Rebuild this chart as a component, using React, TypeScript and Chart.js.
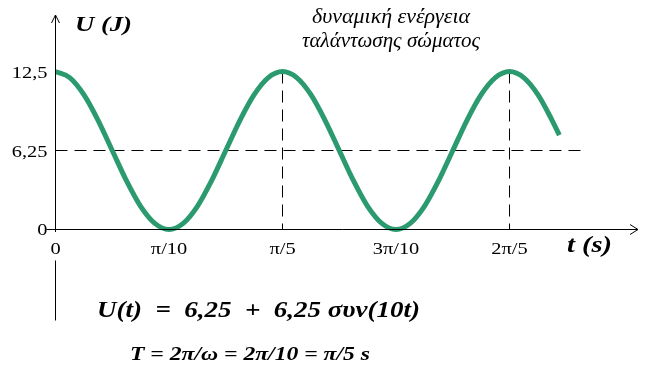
import React, { useEffect, useRef } from "react";
import { Chart, registerables } from "chart.js";

Chart.register(...registerables);

const tValues = [
  0, 0.0393, 0.0785, 0.1178, 0.1571, 0.1963, 0.2356, 0.2749, 0.3142, 0.3534,
  0.3927, 0.432, 0.4712, 0.5105, 0.5498, 0.589, 0.6283, 0.6676, 0.7069, 0.7461,
  0.7854, 0.8247, 0.8639, 0.9032, 0.9425, 0.9817, 1.021, 1.0603, 1.0996, 1.1388,
  1.1781, 1.2174, 1.2566, 1.2959, 1.3352, 1.3744, 1.3945,
];
const uValues = [
  12.5, 12.02, 10.67, 8.64, 6.25, 3.86, 1.83, 0.48, 0, 0.48,
  1.83, 3.86, 6.25, 8.64, 10.67, 12.02, 12.5, 12.02, 10.67, 8.64,
  6.25, 3.86, 1.83, 0.48, 0, 0.48, 1.83, 3.86, 6.25, 8.64,
  10.67, 12.02, 12.5, 12.02, 10.67, 8.64, 7.47,
];

const xTickValues = [0, 0.3142, 0.6283, 0.9425, 1.2566];
const xTickLabels = ["0", "π/10", "π/5", "3π/10", "2π/5"];
const yTickValues = [12.5, 6.25, 0];
const yTickLabels = ["12,5", "6,25", "0"];

const midLevel = [6.25];
const midLineEnd = [1.461];
const peakTimes = [0.6283, 1.2566];
const peakLevel = [12.5];

const titleLines = ["δυναμική ενέργεια", "ταλάντωσης σώματος"];
const yAxisTitle = "U (J)";
const xAxisTitle = "t (s)";
const formulaText = "U(t)  =  6,25  +  6,25 συν(10t)";
const periodText = "T = 2π/ω = 2π/10 = π/5 s";

const GREEN = "#2b9a6f";
const SERIF = "'Liberation Serif', 'Times New Roman', serif";

// draw text stretched horizontally so it covers the given width
function fitText(
  ctx: CanvasRenderingContext2D,
  text: string,
  x: number,
  y: number,
  width: number,
  align: "left" | "center" | "right"
) {
  const w = ctx.measureText(text).width;
  const sx = width / w;
  ctx.save();
  ctx.textAlign = "left";
  const left = align === "left" ? x : align === "center" ? x - width / 2 : x - width;
  ctx.translate(left, y);
  ctx.scale(sx, 1);
  ctx.fillText(text, 0, 0);
  ctx.restore();
}

function stretchText(
  ctx: CanvasRenderingContext2D,
  text: string,
  x: number,
  y: number,
  sx: number,
  align: "left" | "center" | "right"
) {
  const w = ctx.measureText(text).width * sx;
  fitText(ctx, text, x, y, w, align);
}

const overlay = {
  id: "overlay",
  afterDraw(chart: any) {
    const ctx = chart.ctx as CanvasRenderingContext2D;
    const xs = chart.scales.x;
    const ys = chart.scales.y;
    const x0 = Math.floor(xs.getPixelForValue(0)) + 0.5;
    const y0 = Math.floor(ys.getPixelForValue(0)) + 0.5;
    const top = chart.chartArea.top;
    const right = chart.chartArea.right;
    ctx.save();
    ctx.strokeStyle = "#000";
    ctx.lineWidth = 1;
    ctx.setLineDash([]);
    ctx.beginPath();
    // x axis with arrow
    ctx.moveTo(x0 - 9, y0);
    ctx.lineTo(right, y0);
    ctx.moveTo(right - 8, y0 - 5);
    ctx.lineTo(right, y0);
    ctx.lineTo(right - 8, y0 + 5);
    // y axis with arrow
    ctx.moveTo(x0, chart.chartArea.bottom);
    ctx.lineTo(x0, top);
    ctx.moveTo(x0 - 4, top + 8);
    ctx.lineTo(x0, top);
    ctx.lineTo(x0 + 4, top + 8);
    // lower segment of y axis
    ctx.moveTo(x0, y0 + 31);
    ctx.lineTo(x0, y0 + 91);
    ctx.stroke();

    ctx.fillStyle = "#000";
    ctx.textBaseline = "alphabetic";
    // y tick labels
    ctx.font = `17px ${SERIF}`;
    yTickValues.forEach((v, i) => {
      stretchText(ctx, yTickLabels[i], x0 - 8, ys.getPixelForValue(v) + 6, 1.2, "right");
    });
    // x tick labels
    xTickValues.forEach((v, i) => {
      stretchText(ctx, xTickLabels[i], xs.getPixelForValue(v), y0 + 24, 1.2, "center");
    });
    // axis titles
    ctx.font = `bold italic 22px ${SERIF}`;
    fitText(ctx, yAxisTitle, 75, 31, 57, "left");
    ctx.font = `bold italic 23px ${SERIF}`;
    fitText(ctx, xAxisTitle, 567, 252, 45, "left");
    // chart title (greek)
    ctx.font = `italic 20px ${SERIF}`;
    fitText(ctx, titleLines[0], 312, 23, 158, "left");
    fitText(ctx, titleLines[1], 302, 47, 178, "left");
    // formulas
    ctx.font = `bold italic 23px ${SERIF}`;
    fitText(ctx, formulaText, 97, 317, 323, "left");
    ctx.font = `bold italic 19px ${SERIF}`;
    fitText(ctx, periodText, 130, 360, 240, "left");
    ctx.restore();
  },
};

export default function App() {
  const ref = useRef<HTMLCanvasElement>(null);
  useEffect(() => {
    document.body.style.margin = "0";
    document.body.style.background = "#fff";
    const curve = tValues.map((t, i) => ({ x: t, y: uValues[i] }));
    const hLine = [
      { x: 0, y: midLevel[0] },
      { x: midLineEnd[0], y: midLevel[0] },
    ];
    const dash = {
      borderColor: "#000",
      borderWidth: 1,
      borderDash: [12, 7],
      pointRadius: 0,
      fill: false,
      tension: 0,
      order: 2,
    };
    const chart = new Chart(ref.current!, {
      type: "line",
      data: {
        datasets: [
          {
            data: curve,
            borderColor: GREEN,
            borderWidth: 5,
            pointRadius: 0,
            fill: false,
            cubicInterpolationMode: "monotone",
            order: 0,
          } as any,
          { ...dash, data: hLine },
          ...peakTimes.map((t) => ({
            ...dash,
            data: [
              { x: t, y: peakLevel[0] },
              { x: t, y: 0 },
            ],
          })),
        ],
      },
      options: {
        animation: false,
        responsive: false,
        maintainAspectRatio: false,
        layout: { padding: { left: 55, right: 21, top: 15, bottom: 143 } },
        plugins: { legend: { display: false }, tooltip: { enabled: false } },
        scales: {
          x: { type: "linear", min: -0.00138, max: 1.6122, display: false },
          y: { type: "linear", min: -0.1978, max: 16.97, display: false },
        },
      },
      plugins: [overlay],
    });
    return () => chart.destroy();
  }, []);
  return (
    <div style={{ width: 659, height: 375, background: "#fff" }}>
      <canvas ref={ref} width={659} height={375} style={{ display: "block" }} />
    </div>
  );
}
